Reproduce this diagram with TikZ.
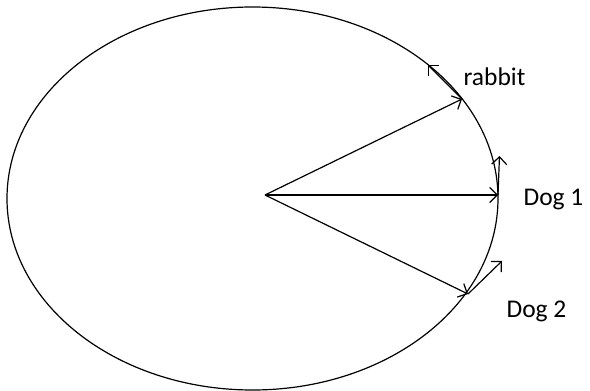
\documentclass[tikz,border=0pt]{standalone}
\usepackage{fontspec}
\setmainfont{Carlito}
\usetikzlibrary{arrows.meta}
\begin{document}
\begin{tikzpicture}[x=1pt,y=-1pt,
  line width=1.2pt,
  vec/.style={-{Straight Barb[length=7.5pt,width=15pt,line width=1.2pt]}},
  lbl/.style={inner sep=0pt,anchor=base west,font=\fontsize{25.5}{30}\selectfont}]
\useasboundingbox (0,0) rectangle (590,391);
\coordinate (C) at (252.5,198.5);
\draw (C) ellipse [x radius=245.5pt, y radius=191.5pt];
\coordinate (O) at (265,195);
\coordinate (R) at (462,99);
\coordinate (D1) at (498,195);
\coordinate (D2) at (468,294);
\coordinate (Rt) at (428,65);
\coordinate (D1t) at (499.5,156);
\coordinate (D2t) at (502,261);
\draw[vec] (O) -- (R);
\draw[vec] (O) -- (D1);
\draw[vec] (O) -- (D2);
\draw[vec] (R) -- (Rt);
\draw[vec] (D1) -- (D1t);
\draw[vec] (D2) -- (D2t);
\node[lbl] (rabbit) at (463,85) {rabbit};
\node[lbl] (dog1) at (523,205) {Dog 1};
\node[lbl] (dog2) at (506,317) {Dog 2};
\end{tikzpicture}
\end{document}
